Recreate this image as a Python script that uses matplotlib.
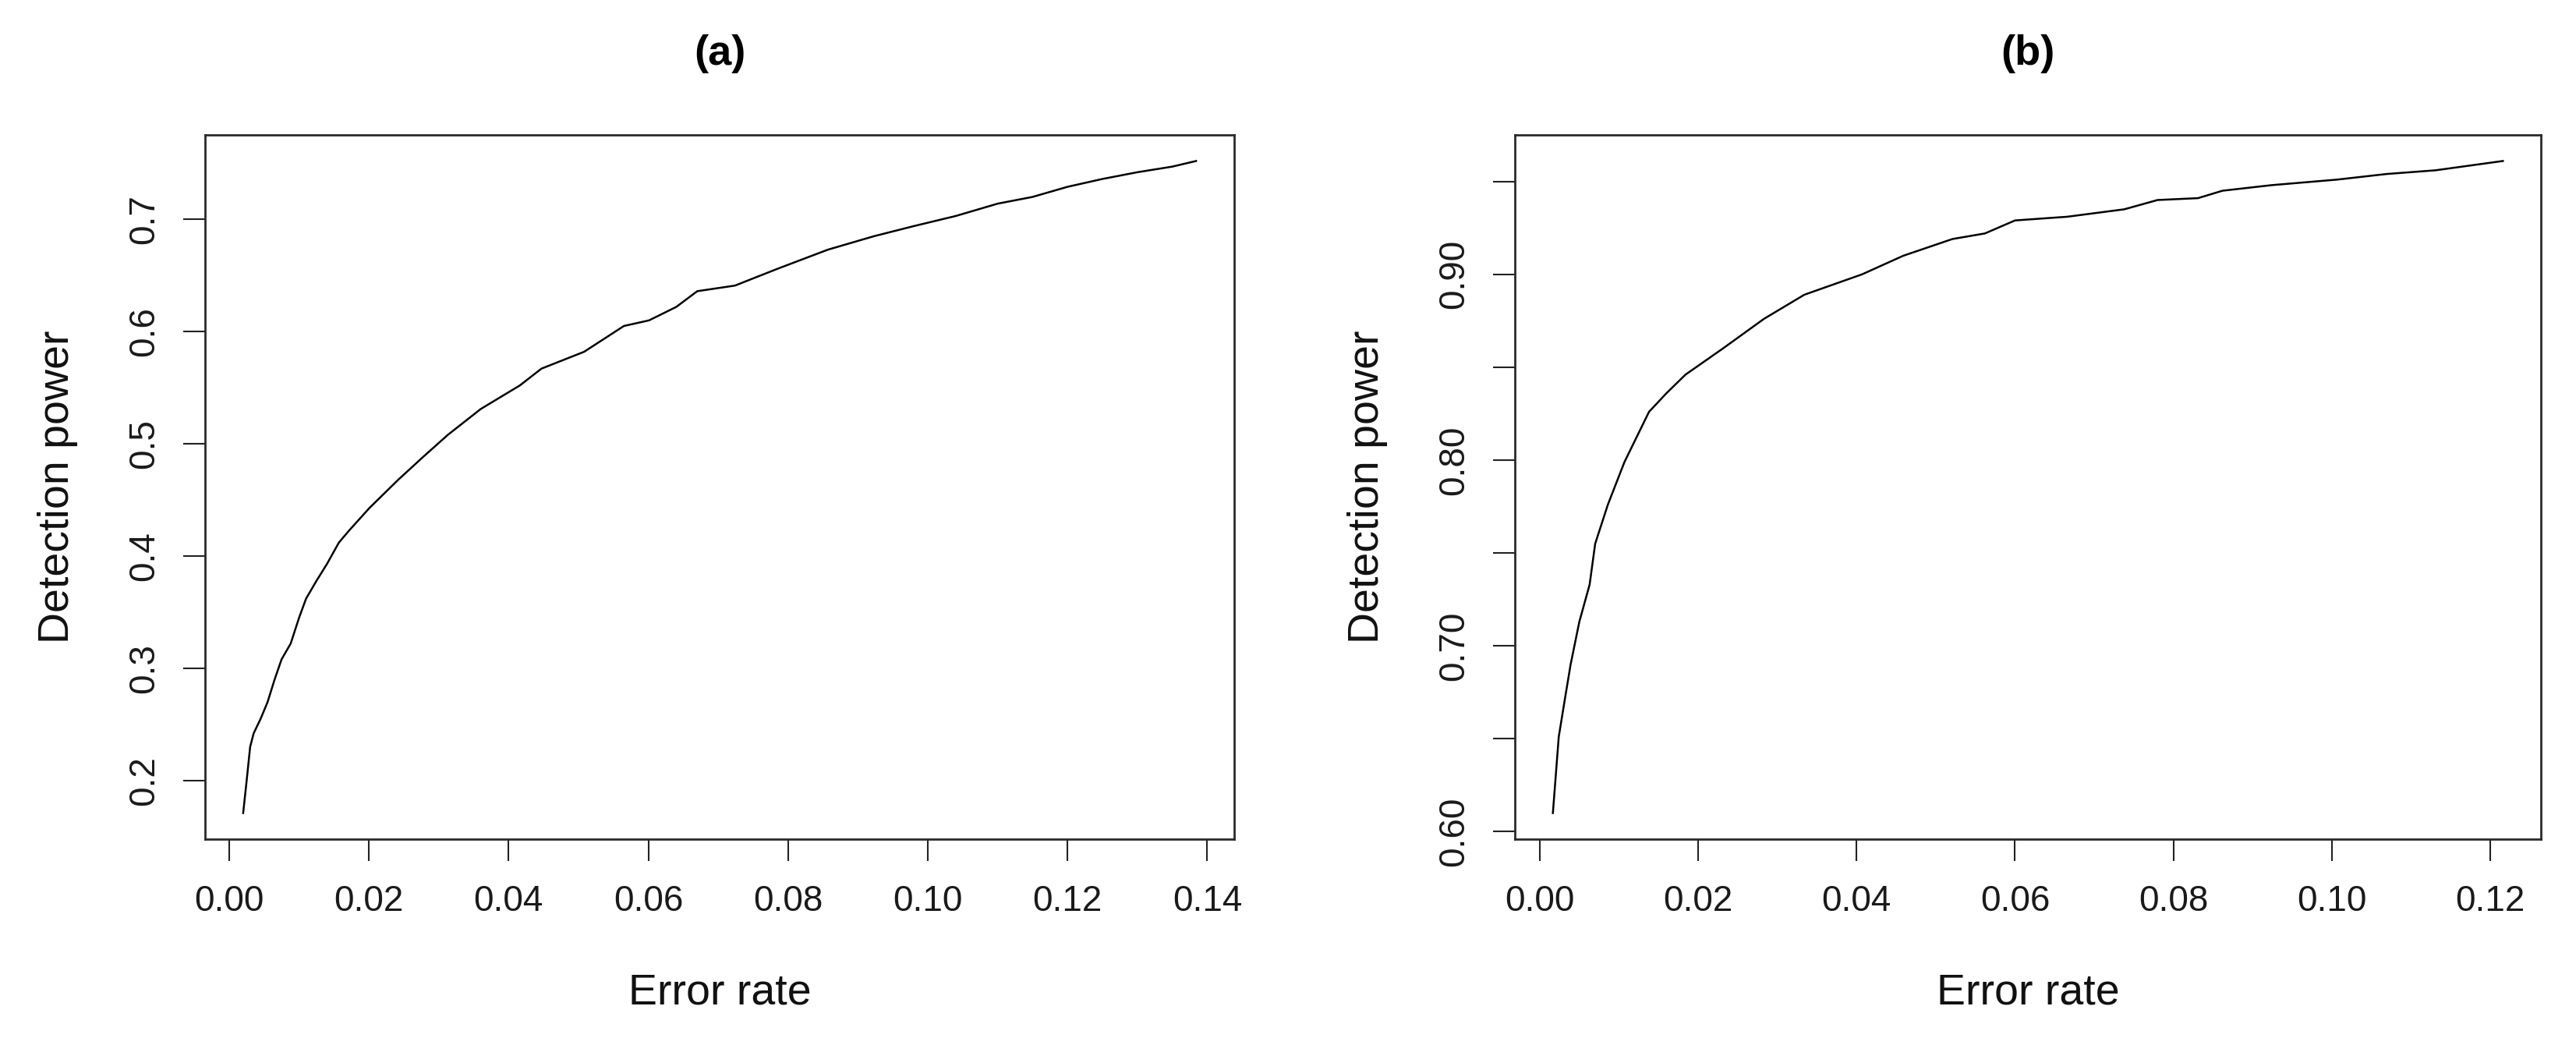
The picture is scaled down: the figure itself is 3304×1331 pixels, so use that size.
import matplotlib
matplotlib.use("Agg")
import matplotlib.pyplot as plt

plt.rcParams['font.family'] = ['Liberation Sans', 'DejaVu Sans']

# ---------------- data ----------------
titles = ["(a)", "(b)"]
xlabel = "Error rate"
ylabel = "Detection power"

a_err = [0.0020, 0.0025, 0.0030, 0.0035, 0.0045, 0.0055, 0.0065, 0.0075, 0.0088,
         0.0100, 0.0110, 0.0125, 0.0140, 0.0157, 0.0172, 0.0201, 0.0242, 0.0277,
         0.0313, 0.0360, 0.0416, 0.0447, 0.0508, 0.0565, 0.0601, 0.0640, 0.0670,
         0.0724, 0.0785, 0.0857, 0.0923, 0.0980, 0.1040, 0.1100, 0.1150, 0.1200,
         0.1250, 0.1300, 0.1350, 0.1384]
a_pow = [0.171, 0.200, 0.230, 0.242, 0.255, 0.270, 0.290, 0.308, 0.322,
         0.345, 0.362, 0.378, 0.393, 0.412, 0.423, 0.443, 0.468, 0.488,
         0.508, 0.531, 0.552, 0.567, 0.582, 0.605, 0.610, 0.622, 0.636,
         0.641, 0.656, 0.673, 0.685, 0.694, 0.703, 0.714, 0.720, 0.729,
         0.736, 0.742, 0.747, 0.752]

b_err = [0.00166, 0.0024, 0.0032, 0.0039, 0.0050, 0.0063, 0.0070, 0.0086, 0.0107,
         0.0138, 0.0160, 0.0184, 0.0231, 0.0283, 0.0334, 0.0407, 0.0459, 0.0521,
         0.0562, 0.0600, 0.0666, 0.0738, 0.0780, 0.0831, 0.0862, 0.0924, 0.1007,
         0.1069, 0.1131, 0.1216]
b_pow = [0.610, 0.651, 0.672, 0.690, 0.713, 0.733, 0.755, 0.776, 0.799,
         0.826, 0.836, 0.846, 0.860, 0.876, 0.889, 0.900, 0.910, 0.919,
         0.922, 0.929, 0.931, 0.935, 0.940, 0.941, 0.945, 0.948, 0.951,
         0.954, 0.956, 0.961]

a_xticks = [0.00, 0.02, 0.04, 0.06, 0.08, 0.10, 0.12, 0.14]
a_xticklabels = ["0.00", "0.02", "0.04", "0.06", "0.08", "0.10", "0.12", "0.14"]
a_yticks = [0.2, 0.3, 0.4, 0.5, 0.6, 0.7]
a_yticklabels = ["0.2", "0.3", "0.4", "0.5", "0.6", "0.7"]

b_xticks = [0.00, 0.02, 0.04, 0.06, 0.08, 0.10, 0.12]
b_xticklabels = ["0.00", "0.02", "0.04", "0.06", "0.08", "0.10", "0.12"]
b_yticks = [0.60, 0.65, 0.70, 0.75, 0.80, 0.85, 0.90, 0.95]
b_yticklabels = ["0.60", "", "0.70", "", "0.80", "", "0.90", ""]

# ---------------- layout ----------------
W, H = 3304, 1331
fig = plt.figure(figsize=(W / 100, H / 100), dpi=100)


def px_rect(l, r, t, b):
    return [l / W, 1 - b / H, (r - l) / W, (b - t) / H]


panels = [
    dict(rect=px_rect(263, 1583, 173, 1076), x=a_err, y=a_pow,
         xt=a_xticks, xtl=a_xticklabels, yt=a_yticks, ytl=a_yticklabels),
    dict(rect=px_rect(1943, 3259, 173, 1076), x=b_err, y=b_pow,
         xt=b_xticks, xtl=b_xticklabels, yt=b_yticks, ytl=b_yticklabels),
]

for i, p in enumerate(panels):
    ax = fig.add_axes(p['rect'])
    ax.plot(p['x'], p['y'], color='black', lw=1.8, solid_joinstyle='round')
    # R-style 4% axis extension
    xr = max(p['x']) - min(p['x'])
    yr = max(p['y']) - min(p['y'])
    ax.set_xlim(min(p['x']) - 0.04 * xr, max(p['x']) + 0.04 * xr)
    ax.set_ylim(min(p['y']) - 0.04 * yr, max(p['y']) + 0.04 * yr)
    ax.set_xticks(p['xt'])
    ax.set_xticklabels(p['xtl'])
    ax.set_yticks(p['yt'])
    ax.set_yticklabels(p['ytl'], rotation=90, va='center')
    ax.tick_params(axis='both', direction='out', length=20, width=1.5,
                   color='#222222', labelsize=33, labelcolor='#1a1a1a')
    ax.tick_params(axis='x', pad=22)
    ax.tick_params(axis='y', pad=20)
    for s in ax.spines.values():
        s.set_linewidth(2.0)
        s.set_color('#2a2a2a')

    l, r = p['rect'][0] * W, (p['rect'][0] + p['rect'][2]) * W
    cx = (l + r) / 2
    fig.text(cx / W, 1 - 83 / H, titles[i], ha='center', va='baseline',
             fontsize=39, fontweight='bold')
    fig.text(cx / W, 1 - 1287 / H, xlabel, ha='center', va='baseline',
             fontsize=40, color='#111111')
    fig.text((l - 175) / W, 1 - 624 / H, ylabel, ha='center', va='baseline',
             rotation=90, rotation_mode='anchor', fontsize=40, color='#111111')

fig.savefig("out.png", dpi=100, facecolor='white')
